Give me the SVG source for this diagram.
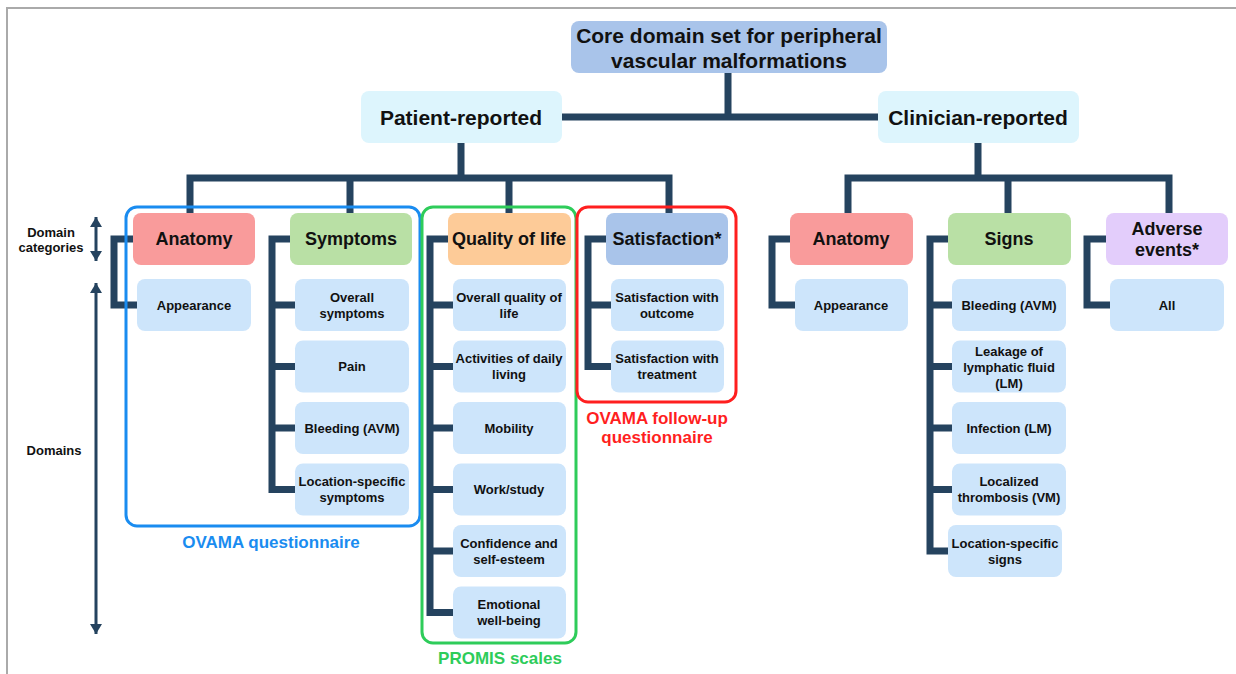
<svg xmlns="http://www.w3.org/2000/svg" width="1236" height="674" viewBox="0 0 1236 674">
<style>
text{font-family:"Liberation Sans",Arial,Helvetica,sans-serif;font-weight:bold;fill:#111;text-anchor:middle;dominant-baseline:central}
.t1{font-size:21px}
.cat{font-size:18px}
.dom{font-size:13px}
.lab{font-size:13px}
.grp{font-size:17px}
.core{fill:#a9c4ea}
.rep{fill:#ddf5fd}
.d{fill:#cde5fb}
.conn{fill:none;stroke:#25435f;stroke-width:7;stroke-linejoin:miter}
.ax{stroke:#25435f;stroke-width:3;fill:none}
</style>
<defs>
<marker id="ah" viewBox="0 0 10 12" refX="10" refY="6" markerWidth="10" markerHeight="12" markerUnits="userSpaceOnUse" orient="auto-start-reverse">
<path d="M0,0 L10,6 L0,12 z" fill="#25435f"/>
</marker>
</defs>
<rect width="1236" height="674" fill="#fff"/>
<path d="M7,674 V8 H1236" fill="none" stroke="#aaa" stroke-width="2"/>

<g id="connectors">
<path class="conn" d="M728,73 V117 M562,117 H878"/>
<path class="conn" d="M461,143 V178 M190,213 V178 H669 V213 M350,178 V213 M509,178 V213"/>
<path class="conn" d="M978,143 V178 M848,213 V178 H1169 V213 M1008,178 V213"/>
<path class="conn" d="M133,239 H114 V305 H137"/>
<path class="conn" d="M290,239 H272 V489.5 H295 M272,305 H295 M272,366.5 H295 M272,428 H295"/>
<path class="conn" d="M448,239 H430 V612.5 H453 M430,305 H453 M430,366.5 H453 M430,428 H453 M430,489.5 H453 M430,551 H453"/>
<path class="conn" d="M606,239 H588 V366.5 H611 M588,305 H611"/>
<path class="conn" d="M790,239 H772 V305 H795"/>
<path class="conn" d="M948,239 H930 V551 H948 M930,305 H952 M930,366.5 H952 M930,428 H952 M930,489.5 H952"/>
<path class="conn" d="M1106,239 H1087 V305 H1110"/>
</g>

<g id="axis">
<line class="ax" x1="96" y1="217" x2="96" y2="261" marker-start="url(#ah)" marker-end="url(#ah)"/>
<line class="ax" x1="96" y1="283" x2="96" y2="634" marker-start="url(#ah)" marker-end="url(#ah)"/>
<text class="lab" x="51" y="232">Domain</text>
<text class="lab" x="51" y="247">categories</text>
<text class="lab" x="54" y="450">Domains</text>
</g>

<g id="group-ovama">
<rect x="126" y="207" width="294" height="319" rx="11" fill="none" stroke="#1a8cf0" stroke-width="3"/>
<text class="grp" x="271" y="542" style="fill:#1a8cf0">OVAMA questionnaire</text>
</g>
<g id="group-promis">
<rect x="422" y="207" width="154" height="436" rx="11" fill="none" stroke="#2ecc5a" stroke-width="3"/>
<text class="grp" x="500" y="658" style="fill:#2ecc5a">PROMIS scales</text>
</g>
<g id="group-followup">
<rect x="577" y="207" width="159" height="195" rx="11" fill="none" stroke="#ff1f1f" stroke-width="3"/>
<text class="grp" x="657" y="418" style="fill:#ff1f1f">OVAMA follow-up</text>
<text class="grp" x="657" y="437" style="fill:#ff1f1f">questionnaire</text>
</g>

<g id="core">
<rect class="core" x="571" y="21" width="316" height="52" rx="8"/>
<text class="t1" x="729" y="35">Core domain set for peripheral</text>
<text class="t1" x="729" y="60">vascular malformations</text>
</g>
<g id="patient-reported">
<rect class="rep" x="361" y="91" width="201" height="52" rx="8"/>
<text class="t1" x="461" y="117">Patient-reported</text>
</g>
<g id="clinician-reported">
<rect class="rep" x="878" y="91" width="201" height="52" rx="8"/>
<text class="t1" x="978" y="117">Clinician-reported</text>
</g>

<g id="p-anatomy">
<rect x="133" y="213" width="122" height="52" rx="8" fill="#f99b9b"/>
<text class="cat" x="194" y="239">Anatomy</text>
</g>
<g id="p-appearance">
<rect class="d" x="137" y="279" width="114" height="52" rx="8"/>
<text class="dom" x="194" y="305">Appearance</text>
</g>

<g id="symptoms">
<rect x="290" y="213" width="122" height="52" rx="8" fill="#b9e0a5"/>
<text class="cat" x="351" y="239">Symptoms</text>
</g>
<g id="overall-symptoms">
<rect class="d" x="295" y="279" width="114" height="52" rx="8"/>
<text class="dom" x="352" y="297">Overall</text>
<text class="dom" x="352" y="313">symptoms</text>
</g>
<g id="pain">
<rect class="d" x="295" y="340.5" width="114" height="52" rx="8"/>
<text class="dom" x="352" y="366.5">Pain</text>
</g>
<g id="p-bleeding">
<rect class="d" x="295" y="402" width="114" height="52" rx="8"/>
<text class="dom" x="352" y="428">Bleeding (AVM)</text>
</g>
<g id="location-symptoms">
<rect class="d" x="295" y="463.5" width="114" height="52" rx="8"/>
<text class="dom" x="352" y="481.5">Location-specific</text>
<text class="dom" x="352" y="497.5">symptoms</text>
</g>

<g id="quality-of-life">
<rect x="448" y="213" width="123" height="52" rx="8" fill="#fdcb98"/>
<text class="cat" x="509" y="239">Quality of life</text>
</g>
<g id="overall-qol">
<rect class="d" x="453" y="279" width="113" height="52" rx="8"/>
<text class="dom" x="509" y="297">Overall quality of</text>
<text class="dom" x="509" y="313">life</text>
</g>
<g id="adl">
<rect class="d" x="453" y="340.5" width="113" height="52" rx="8"/>
<text class="dom" x="509" y="358.5">Activities of daily</text>
<text class="dom" x="509" y="374.5">living</text>
</g>
<g id="mobility">
<rect class="d" x="453" y="402" width="113" height="52" rx="8"/>
<text class="dom" x="509" y="428">Mobility</text>
</g>
<g id="work-study">
<rect class="d" x="453" y="463.5" width="113" height="52" rx="8"/>
<text class="dom" x="509" y="489.5">Work/study</text>
</g>
<g id="confidence">
<rect class="d" x="453" y="525" width="113" height="52" rx="8"/>
<text class="dom" x="509" y="543">Confidence and</text>
<text class="dom" x="509" y="559">self-esteem</text>
</g>
<g id="emotional">
<rect class="d" x="453" y="586.5" width="113" height="52" rx="8"/>
<text class="dom" x="509" y="604.5">Emotional</text>
<text class="dom" x="509" y="620.5">well-being</text>
</g>

<g id="satisfaction">
<rect x="606" y="213" width="122" height="52" rx="8" fill="#a9c4ea"/>
<text class="cat" x="667" y="239">Satisfaction*</text>
</g>
<g id="sat-outcome">
<rect class="d" x="611" y="279" width="113" height="52" rx="8"/>
<text class="dom" x="667" y="297">Satisfaction with</text>
<text class="dom" x="667" y="313">outcome</text>
</g>
<g id="sat-treatment">
<rect class="d" x="611" y="340.5" width="113" height="52" rx="8"/>
<text class="dom" x="667" y="358.5">Satisfaction with</text>
<text class="dom" x="667" y="374.5">treatment</text>
</g>

<g id="c-anatomy">
<rect x="790" y="213" width="123" height="52" rx="8" fill="#f99b9b"/>
<text class="cat" x="851" y="239">Anatomy</text>
</g>
<g id="c-appearance">
<rect class="d" x="795" y="279" width="113" height="52" rx="8"/>
<text class="dom" x="851" y="305">Appearance</text>
</g>

<g id="signs">
<rect x="948" y="213" width="123" height="52" rx="8" fill="#b9e0a5"/>
<text class="cat" x="1009" y="239">Signs</text>
</g>
<g id="c-bleeding">
<rect class="d" x="952" y="279" width="114" height="52" rx="8"/>
<text class="dom" x="1009" y="305">Bleeding (AVM)</text>
</g>
<g id="leakage">
<rect class="d" x="952" y="340.5" width="114" height="52" rx="8"/>
<text class="dom" x="1009" y="351">Leakage of</text>
<text class="dom" x="1009" y="367">lymphatic fluid</text>
<text class="dom" x="1009" y="383">(LM)</text>
</g>
<g id="infection">
<rect class="d" x="952" y="402" width="114" height="52" rx="8"/>
<text class="dom" x="1009" y="428">Infection (LM)</text>
</g>
<g id="thrombosis">
<rect class="d" x="952" y="463.5" width="114" height="52" rx="8"/>
<text class="dom" x="1009" y="481.5">Localized</text>
<text class="dom" x="1009" y="497.5">thrombosis (VM)</text>
</g>
<g id="location-signs">
<rect class="d" x="948" y="525" width="114" height="52" rx="8"/>
<text class="dom" x="1005" y="543">Location-specific</text>
<text class="dom" x="1005" y="559">signs</text>
</g>

<g id="adverse-events">
<rect x="1106" y="213" width="122" height="52" rx="8" fill="#e3cdfb"/>
<text class="cat" x="1167" y="229">Adverse</text>
<text class="cat" x="1167" y="250">events*</text>
</g>
<g id="all">
<rect class="d" x="1110" y="279" width="114" height="52" rx="8"/>
<text class="dom" x="1167" y="305">All</text>
</g>
</svg>
